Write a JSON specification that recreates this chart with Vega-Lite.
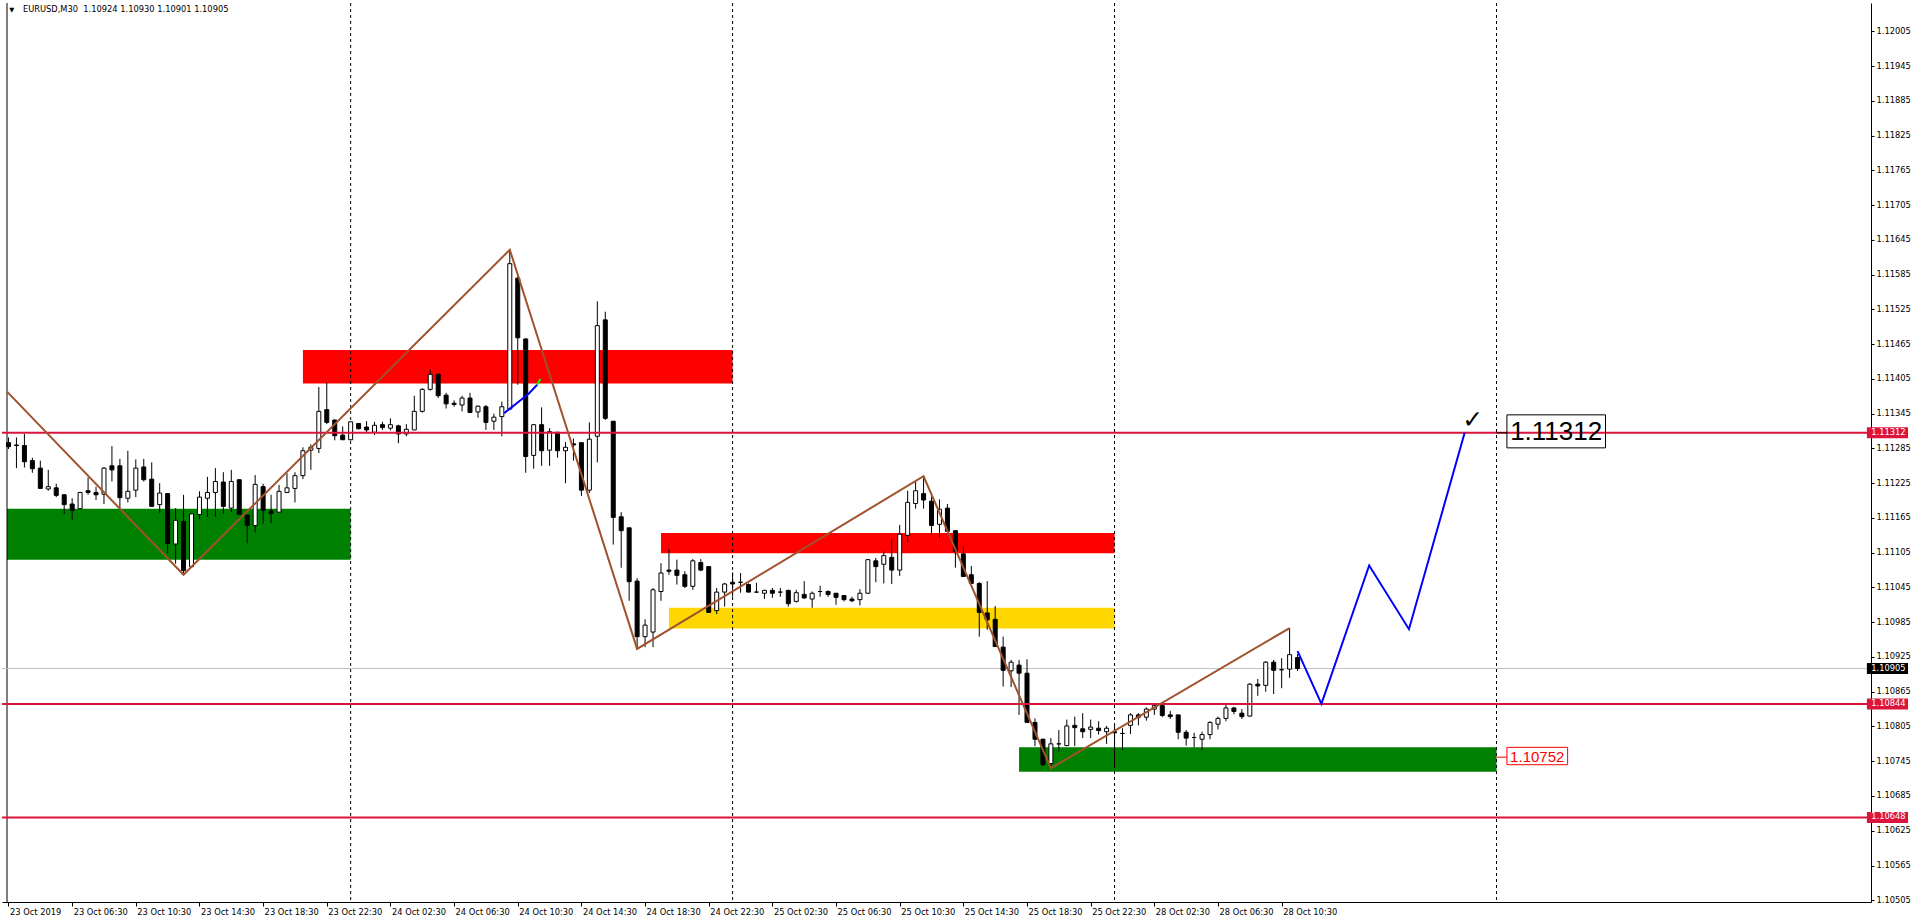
{
"$schema": "https://vega.github.io/schema/vega-lite/v6.json",
"width": 1869, "height": 899,
"autosize": "none",
"padding": {"left": 2, "top": 3, "right": 45, "bottom": 21},
"background": "white",
"config": {"view": {"stroke": null}, "axis": {"grid": false, "labelFont": "DejaVu Sans", "labelFontSize": 8.3, "labelColor": "#000000", "domainColor": "#000000", "tickColor": "#000000", "domainWidth": 1, "tickWidth": 1}},
"resolve": {"axis": {"x": "independent", "y": "independent"}, "scale": {"color": "independent"}},
"data": {"values": [{}]},
"datasets": {
"zones": [
{"a": -0.1875, "b": 43, "lo": 1.11093, "hi": 1.11181, "kind": "demand"},
{"a": 37, "b": 91, "lo": 1.11397, "hi": 1.11455, "kind": "supply"},
{"a": 82, "b": 139, "lo": 1.11104, "hi": 1.11139, "kind": "supply"},
{"a": 83, "b": 139, "lo": 1.10974, "hi": 1.11010, "kind": "mid"},
{"a": 127, "b": 187, "lo": 1.10727, "hi": 1.10769, "kind": "demand"}
],
"days": [{"i": 43}, {"i": 91}, {"i": 139}, {"i": 187}],
"levels": [{"p": 1.11312}, {"p": 1.10844}, {"p": 1.10648}],
"markers": [{"p": 1.11312, "kind": "level"}, {"p": 1.10844, "kind": "level"}, {"p": 1.10648, "kind": "level"}, {"p": 1.10905, "kind": "bid"}],
"zigzag": [{"i": -0.1875, "p": 1.11383}, {"i": 22, "p": 1.11067}, {"i": 63, "p": 1.11628}, {"i": 79, "p": 1.10939}, {"i": 115, "p": 1.11237}, {"i": 131, "p": 1.10733}, {"i": 161, "p": 1.10975}],
"projection": [{"i": 162, "p": 1.10935}, {"i": 165, "p": 1.10844}, {"i": 171, "p": 1.11083}, {"i": 176, "p": 1.10973}, {"i": 183, "p": 1.11312}],
"smallblue": [{"i": 62.3, "p": 1.11346}, {"i": 64.15, "p": 1.11366}, {"i": 65.4, "p": 1.1138}, {"i": 66.44, "p": 1.11395}],
"smallgreen": [{"i": 66.44, "p": 1.11395}, {"i": 66.85, "p": 1.11405}],
"candles": [
{"i":0,"o":1.11295,"h":1.11304,"l":1.11284,"c":1.11288},
{"i":1,"o":1.11290,"h":1.11304,"l":1.11251,"c":1.11291},
{"i":2,"o":1.11290,"h":1.11310,"l":1.11252,"c":1.11262},
{"i":3,"o":1.11264,"h":1.11269,"l":1.11243,"c":1.11250},
{"i":4,"o":1.11251,"h":1.11264,"l":1.11215,"c":1.11216},
{"i":5,"o":1.11215,"h":1.11248,"l":1.11212,"c":1.11219},
{"i":6,"o":1.11217,"h":1.11224,"l":1.11201,"c":1.11204},
{"i":7,"o":1.11205,"h":1.11206,"l":1.11172,"c":1.11188},
{"i":8,"o":1.11189,"h":1.11199,"l":1.11162,"c":1.11178},
{"i":9,"o":1.11181,"h":1.11210,"l":1.11180,"c":1.11209},
{"i":10,"o":1.11212,"h":1.11235,"l":1.11205,"c":1.11209},
{"i":11,"o":1.11209,"h":1.11219,"l":1.11196,"c":1.11205},
{"i":12,"o":1.11206,"h":1.11253,"l":1.11189,"c":1.11251},
{"i":13,"o":1.11255,"h":1.11289,"l":1.11228,"c":1.11248},
{"i":14,"o":1.11255,"h":1.11267,"l":1.11182,"c":1.11200},
{"i":15,"o":1.11199,"h":1.11281,"l":1.11192,"c":1.11211},
{"i":16,"o":1.11213,"h":1.11266,"l":1.11201,"c":1.11251},
{"i":17,"o":1.11253,"h":1.11267,"l":1.11228,"c":1.11231},
{"i":18,"o":1.11232,"h":1.11261,"l":1.11185,"c":1.11185},
{"i":19,"o":1.11188,"h":1.11225,"l":1.11174,"c":1.11208},
{"i":20,"o":1.11207,"h":1.11208,"l":1.11104,"c":1.11121},
{"i":21,"o":1.11120,"h":1.11182,"l":1.11086,"c":1.11161},
{"i":22,"o":1.11159,"h":1.11205,"l":1.11067,"c":1.11074},
{"i":23,"o":1.11081,"h":1.11173,"l":1.11080,"c":1.11172},
{"i":24,"o":1.11171,"h":1.11211,"l":1.11163,"c":1.11201},
{"i":25,"o":1.11199,"h":1.11236,"l":1.11167,"c":1.11209},
{"i":26,"o":1.11209,"h":1.11251,"l":1.11167,"c":1.11228},
{"i":27,"o":1.11227,"h":1.11244,"l":1.11172,"c":1.11185},
{"i":28,"o":1.11182,"h":1.11248,"l":1.11175,"c":1.11228},
{"i":29,"o":1.11231,"h":1.11232,"l":1.11171,"c":1.11171},
{"i":30,"o":1.11170,"h":1.11170,"l":1.11121,"c":1.11152},
{"i":31,"o":1.11152,"h":1.11239,"l":1.11140,"c":1.11223},
{"i":32,"o":1.11219,"h":1.11224,"l":1.11155,"c":1.11178},
{"i":33,"o":1.11177,"h":1.11205,"l":1.11156,"c":1.11173},
{"i":34,"o":1.11175,"h":1.11222,"l":1.11174,"c":1.11211},
{"i":35,"o":1.11209,"h":1.11242,"l":1.11209,"c":1.11217},
{"i":36,"o":1.11216,"h":1.11244,"l":1.11192,"c":1.11238},
{"i":37,"o":1.11238,"h":1.11287,"l":1.11232,"c":1.11281},
{"i":38,"o":1.11282,"h":1.11292,"l":1.11248,"c":1.11287},
{"i":39,"o":1.11285,"h":1.11391,"l":1.11277,"c":1.11349},
{"i":40,"o":1.11352,"h":1.11399,"l":1.11327,"c":1.11330},
{"i":41,"o":1.11334,"h":1.11335,"l":1.11299,"c":1.11307},
{"i":42,"o":1.11308,"h":1.11323,"l":1.11300,"c":1.11300},
{"i":43,"o":1.11300,"h":1.11331,"l":1.11299,"c":1.11331},
{"i":44,"o":1.11328,"h":1.11329,"l":1.11318,"c":1.11319},
{"i":45,"o":1.11322,"h":1.11332,"l":1.11312,"c":1.11317},
{"i":46,"o":1.11313,"h":1.11331,"l":1.11308,"c":1.11325},
{"i":47,"o":1.11326,"h":1.11331,"l":1.11317,"c":1.11321},
{"i":48,"o":1.11320,"h":1.11337,"l":1.11316,"c":1.11326},
{"i":49,"o":1.11324,"h":1.11326,"l":1.11294,"c":1.11310},
{"i":50,"o":1.11310,"h":1.11327,"l":1.11306,"c":1.11318},
{"i":51,"o":1.11317,"h":1.11376,"l":1.11317,"c":1.11349},
{"i":52,"o":1.11349,"h":1.11389,"l":1.11347,"c":1.11387},
{"i":53,"o":1.11387,"h":1.11421,"l":1.11385,"c":1.11413},
{"i":54,"o":1.11413,"h":1.11414,"l":1.11372,"c":1.11376},
{"i":55,"o":1.11377,"h":1.11381,"l":1.11354,"c":1.11362},
{"i":56,"o":1.11363,"h":1.11368,"l":1.11357,"c":1.11361},
{"i":57,"o":1.11360,"h":1.11376,"l":1.11349,"c":1.11372},
{"i":58,"o":1.11372,"h":1.11381,"l":1.11347,"c":1.11347},
{"i":59,"o":1.11348,"h":1.11359,"l":1.11338,"c":1.11358},
{"i":60,"o":1.11357,"h":1.11360,"l":1.11317,"c":1.11330},
{"i":61,"o":1.11332,"h":1.11345,"l":1.11317,"c":1.11339},
{"i":62,"o":1.11340,"h":1.11366,"l":1.11306,"c":1.11357},
{"i":63,"o":1.11353,"h":1.11628,"l":1.11352,"c":1.11604},
{"i":64,"o":1.11579,"h":1.11582,"l":1.11395,"c":1.11476},
{"i":65,"o":1.11474,"h":1.11475,"l":1.11243,"c":1.11271},
{"i":66,"o":1.11273,"h":1.11327,"l":1.11250,"c":1.11326},
{"i":67,"o":1.11326,"h":1.11356,"l":1.11255,"c":1.11281},
{"i":68,"o":1.11282,"h":1.11320,"l":1.11255,"c":1.11314},
{"i":69,"o":1.11313,"h":1.11313,"l":1.11269,"c":1.11281},
{"i":70,"o":1.11281,"h":1.11296,"l":1.11225,"c":1.11287},
{"i":71,"o":1.11293,"h":1.11302,"l":1.11264,"c":1.11291},
{"i":72,"o":1.11295,"h":1.11295,"l":1.11203,"c":1.11213},
{"i":73,"o":1.11213,"h":1.11330,"l":1.11208,"c":1.11301},
{"i":74,"o":1.11306,"h":1.11539,"l":1.11261,"c":1.11497},
{"i":75,"o":1.11507,"h":1.11521,"l":1.11334,"c":1.11337},
{"i":76,"o":1.11332,"h":1.11332,"l":1.11119,"c":1.11166},
{"i":77,"o":1.11167,"h":1.11175,"l":1.11079,"c":1.11143},
{"i":78,"o":1.11148,"h":1.11148,"l":1.11022,"c":1.11055},
{"i":79,"o":1.11056,"h":1.11061,"l":1.10939,"c":1.10960},
{"i":80,"o":1.10960,"h":1.10990,"l":1.10942,"c":1.10980},
{"i":81,"o":1.10968,"h":1.11044,"l":1.10942,"c":1.11041},
{"i":82,"o":1.11038,"h":1.11087,"l":1.11022,"c":1.11070},
{"i":83,"o":1.11075,"h":1.11111,"l":1.11067,"c":1.11073},
{"i":84,"o":1.11075,"h":1.11093,"l":1.11050,"c":1.11066},
{"i":85,"o":1.11067,"h":1.11073,"l":1.11044,"c":1.11047},
{"i":86,"o":1.11047,"h":1.11094,"l":1.11041,"c":1.11091},
{"i":87,"o":1.11088,"h":1.11094,"l":1.11073,"c":1.11075},
{"i":88,"o":1.11081,"h":1.11081,"l":1.11001,"c":1.11002},
{"i":89,"o":1.11005,"h":1.11044,"l":1.10999,"c":1.11037},
{"i":90,"o":1.11037,"h":1.11053,"l":1.11012,"c":1.11051},
{"i":91,"o":1.11054,"h":1.11071,"l":1.11029,"c":1.11051},
{"i":92,"o":1.11054,"h":1.11070,"l":1.11036,"c":1.11054},
{"i":93,"o":1.11050,"h":1.11052,"l":1.11037,"c":1.11037},
{"i":94,"o":1.11037,"h":1.11053,"l":1.11036,"c":1.11037},
{"i":95,"o":1.11035,"h":1.11041,"l":1.11025,"c":1.11040},
{"i":96,"o":1.11040,"h":1.11044,"l":1.11027,"c":1.11035},
{"i":97,"o":1.11037,"h":1.11044,"l":1.11029,"c":1.11037},
{"i":98,"o":1.11040,"h":1.11041,"l":1.11012,"c":1.11017},
{"i":99,"o":1.11021,"h":1.11041,"l":1.11019,"c":1.11036},
{"i":100,"o":1.11033,"h":1.11056,"l":1.11025,"c":1.11027},
{"i":101,"o":1.11025,"h":1.11038,"l":1.11010,"c":1.11035},
{"i":102,"o":1.11038,"h":1.11048,"l":1.11029,"c":1.11038},
{"i":103,"o":1.11038,"h":1.11040,"l":1.11029,"c":1.11033},
{"i":104,"o":1.11035,"h":1.11035,"l":1.11015,"c":1.11028},
{"i":105,"o":1.11031,"h":1.11032,"l":1.11021,"c":1.11024},
{"i":106,"o":1.11025,"h":1.11029,"l":1.11020,"c":1.11022},
{"i":107,"o":1.11024,"h":1.11042,"l":1.11014,"c":1.11035},
{"i":108,"o":1.11035,"h":1.11094,"l":1.11034,"c":1.11093},
{"i":109,"o":1.11091,"h":1.11096,"l":1.11054,"c":1.11081},
{"i":110,"o":1.11085,"h":1.11107,"l":1.11052,"c":1.11100},
{"i":111,"o":1.11097,"h":1.11129,"l":1.11051,"c":1.11075},
{"i":112,"o":1.11075,"h":1.11153,"l":1.11065,"c":1.11137},
{"i":113,"o":1.11135,"h":1.11212,"l":1.11123,"c":1.11192},
{"i":114,"o":1.11190,"h":1.11228,"l":1.11181,"c":1.11212},
{"i":115,"o":1.11207,"h":1.11237,"l":1.11181,"c":1.11196},
{"i":116,"o":1.11194,"h":1.11202,"l":1.11136,"c":1.11152},
{"i":117,"o":1.11154,"h":1.11197,"l":1.11131,"c":1.11180},
{"i":118,"o":1.11182,"h":1.11189,"l":1.11142,"c":1.11142},
{"i":119,"o":1.11143,"h":1.11143,"l":1.11079,"c":1.11107},
{"i":120,"o":1.11103,"h":1.11116,"l":1.11064,"c":1.11064},
{"i":121,"o":1.11067,"h":1.11082,"l":1.11052,"c":1.11052},
{"i":122,"o":1.11052,"h":1.11054,"l":1.10960,"c":1.11002},
{"i":123,"o":1.11001,"h":1.11056,"l":1.10972,"c":1.10989},
{"i":124,"o":1.10990,"h":1.11013,"l":1.10943,"c":1.10943},
{"i":125,"o":1.10942,"h":1.10960,"l":1.10874,"c":1.10902},
{"i":126,"o":1.10901,"h":1.10920,"l":1.10873,"c":1.10916},
{"i":127,"o":1.10911,"h":1.10920,"l":1.10825,"c":1.10897},
{"i":128,"o":1.10897,"h":1.10921,"l":1.10811,"c":1.10812},
{"i":129,"o":1.10812,"h":1.10819,"l":1.10771,"c":1.10783},
{"i":130,"o":1.10783,"h":1.10784,"l":1.10737,"c":1.10739},
{"i":131,"o":1.10741,"h":1.10785,"l":1.10733,"c":1.10775},
{"i":132,"o":1.10775,"h":1.10799,"l":1.10762,"c":1.10775},
{"i":133,"o":1.10772,"h":1.10817,"l":1.10771,"c":1.10806},
{"i":134,"o":1.10807,"h":1.10822,"l":1.10771,"c":1.10803},
{"i":135,"o":1.10801,"h":1.10828,"l":1.10785,"c":1.10796},
{"i":136,"o":1.10800,"h":1.10817,"l":1.10785,"c":1.10804},
{"i":137,"o":1.10802,"h":1.10814,"l":1.10791,"c":1.10798},
{"i":138,"o":1.10796,"h":1.10806,"l":1.10775,"c":1.10802},
{"i":139,"o":1.10796,"h":1.10808,"l":1.10736,"c":1.10794},
{"i":140,"o":1.10793,"h":1.10802,"l":1.10764,"c":1.10793},
{"i":141,"o":1.10807,"h":1.10828,"l":1.10792,"c":1.10825},
{"i":142,"o":1.10825,"h":1.10828,"l":1.10807,"c":1.10821},
{"i":143,"o":1.10821,"h":1.10838,"l":1.10815,"c":1.10835},
{"i":144,"o":1.10835,"h":1.10842,"l":1.10825,"c":1.10841},
{"i":145,"o":1.10841,"h":1.10842,"l":1.10821,"c":1.10824},
{"i":146,"o":1.10825,"h":1.10832,"l":1.10818,"c":1.10822},
{"i":147,"o":1.10825,"h":1.10825,"l":1.10783,"c":1.10795},
{"i":148,"o":1.10795,"h":1.10799,"l":1.10772,"c":1.10785},
{"i":149,"o":1.10786,"h":1.10794,"l":1.10769,"c":1.10786},
{"i":150,"o":1.10783,"h":1.10796,"l":1.10764,"c":1.10791},
{"i":151,"o":1.10791,"h":1.10814,"l":1.10783,"c":1.10812},
{"i":152,"o":1.10809,"h":1.10822,"l":1.10800,"c":1.10819},
{"i":153,"o":1.10819,"h":1.10842,"l":1.10814,"c":1.10837},
{"i":154,"o":1.10837,"h":1.10839,"l":1.10826,"c":1.10831},
{"i":155,"o":1.10828,"h":1.10835,"l":1.10818,"c":1.10822},
{"i":156,"o":1.10823,"h":1.10880,"l":1.10822,"c":1.10878},
{"i":157,"o":1.10878,"h":1.10887,"l":1.10858,"c":1.10875},
{"i":158,"o":1.10876,"h":1.10918,"l":1.10865,"c":1.10916},
{"i":159,"o":1.10916,"h":1.10920,"l":1.10861,"c":1.10902},
{"i":160,"o":1.10903,"h":1.10923,"l":1.10871,"c":1.10903},
{"i":161,"o":1.10904,"h":1.10975,"l":1.10889,"c":1.10929},
{"i":162,"o":1.10924,"h":1.10930,"l":1.10901,"c":1.10905}
]
},
"layer": [
{"data": {"name": "zones"}, "mark": {"type": "rect"},
 "encoding": {
  "x": {"field": "a", "type": "quantitative", "scale": {"domain": [-0.1875, 233.4375], "nice": false, "zero": false},
   "axis": {"title": null, "orient": "bottom", "values": [0,8,16,24,32,40,48,56,64,72,80,88,96,104,112,120,128,136,144,152,160],
    "labelExpr": "['23 Oct 2019','23 Oct 06:30','23 Oct 10:30','23 Oct 14:30','23 Oct 18:30','23 Oct 22:30','24 Oct 02:30','24 Oct 06:30','24 Oct 10:30','24 Oct 14:30','24 Oct 18:30','24 Oct 22:30','25 Oct 02:30','25 Oct 06:30','25 Oct 10:30','25 Oct 14:30','25 Oct 18:30','25 Oct 22:30','28 Oct 02:30','28 Oct 06:30','28 Oct 10:30'][round(datum.value/8)]",
    "tickSize": 4, "labelAlign": "left", "labelBaseline": "top", "labelPadding": 1, "labelOffset": 1, "labelOverlap": false, "labelFlush": false, "grid": false}},
  "x2": {"field": "b"},
  "y": {"field": "lo", "type": "quantitative", "scale": {"domain": [1.10502, 1.12054], "nice": false, "zero": false},
   "axis": {"title": null, "orient": "right", "values": [1.10505,1.10565,1.10625,1.10685,1.10745,1.10805,1.10865,1.10925,1.10985,1.11045,1.11105,1.11165,1.11225,1.11285,1.11345,1.11405,1.11465,1.11525,1.11585,1.11645,1.11705,1.11765,1.11825,1.11885,1.11945,1.12005],
    "format": ".5f", "tickSize": 3, "labelPadding": 2, "labelOverlap": false, "labelFlush": false, "labelBaseline": "middle", "labelAlign": "left", "grid": false}},
  "y2": {"field": "hi"},
  "color": {"field": "kind", "type": "nominal", "scale": {"domain": ["demand", "supply", "mid"], "range": ["#008000", "#FF0000", "#FFD700"]}, "legend": null}
 }},
{"data": {"name": "days"}, "mark": {"type": "rule", "color": "#000000", "strokeWidth": 1, "strokeDash": [3, 3]},
 "encoding": {"x": {"field": "i", "type": "quantitative", "scale": {"domain": [-0.1875, 233.4375], "nice": false, "zero": false}, "axis": null}}},
{"mark": {"type": "rule", "color": "#000000", "strokeWidth": 1},
 "encoding": {"x": {"datum": -0.1875, "type": "quantitative", "scale": {"domain": [-0.1875, 233.4375], "nice": false, "zero": false}, "axis": null}}},
{"mark": {"type": "rule", "color": "#C0C0C0", "strokeWidth": 1},
 "encoding": {"y": {"datum": 1.10905, "type": "quantitative", "scale": {"domain": [1.10502, 1.12054], "nice": false, "zero": false}, "axis": null}}},
{"data": {"name": "candles"}, "mark": {"type": "rule", "color": "#000000", "strokeWidth": 1},
 "encoding": {
  "x": {"field": "i", "type": "quantitative", "scale": {"domain": [-0.1875, 233.4375], "nice": false, "zero": false}, "axis": null},
  "y": {"field": "l", "type": "quantitative", "scale": {"domain": [1.10502, 1.12054], "nice": false, "zero": false}, "axis": null},
  "y2": {"field": "h"}}},
{"data": {"name": "candles"}, "mark": {"type": "bar", "orient": "vertical", "width": 4, "stroke": "#000000", "strokeWidth": 1},
 "encoding": {
  "x": {"field": "i", "type": "quantitative", "scale": {"domain": [-0.1875, 233.4375], "nice": false, "zero": false}, "axis": null},
  "y": {"field": "o", "type": "quantitative", "scale": {"domain": [1.10502, 1.12054], "nice": false, "zero": false}, "axis": null},
  "y2": {"field": "c"},
  "fill": {"condition": {"test": "datum.c >= datum.o", "value": "#FFFFFF"}, "value": "#000000"}}},
{"data": {"name": "levels"}, "mark": {"type": "rule", "color": "#DC143C", "strokeWidth": 2},
 "encoding": {"y": {"field": "p", "type": "quantitative", "scale": {"domain": [1.10502, 1.12054], "nice": false, "zero": false}, "axis": null}}},
{"data": {"name": "zigzag"}, "mark": {"type": "line", "color": "#A0522D", "strokeWidth": 2},
 "encoding": {
  "x": {"field": "i", "type": "quantitative", "scale": {"domain": [-0.1875, 233.4375], "nice": false, "zero": false}, "axis": null},
  "y": {"field": "p", "type": "quantitative", "scale": {"domain": [1.10502, 1.12054], "nice": false, "zero": false}, "axis": null}}},
{"data": {"name": "projection"}, "mark": {"type": "line", "color": "#0000FF", "strokeWidth": 2},
 "encoding": {
  "x": {"field": "i", "type": "quantitative", "scale": {"domain": [-0.1875, 233.4375], "nice": false, "zero": false}, "axis": null},
  "y": {"field": "p", "type": "quantitative", "scale": {"domain": [1.10502, 1.12054], "nice": false, "zero": false}, "axis": null}}},
{"data": {"name": "smallblue"}, "mark": {"type": "line", "color": "#0000FF", "strokeWidth": 2},
 "encoding": {
  "x": {"field": "i", "type": "quantitative", "scale": {"domain": [-0.1875, 233.4375], "nice": false, "zero": false}, "axis": null},
  "y": {"field": "p", "type": "quantitative", "scale": {"domain": [1.10502, 1.12054], "nice": false, "zero": false}, "axis": null}}},
{"data": {"name": "smallgreen"}, "mark": {"type": "line", "color": "#00FF00", "strokeWidth": 2},
 "encoding": {
  "x": {"field": "i", "type": "quantitative", "scale": {"domain": [-0.1875, 233.4375], "nice": false, "zero": false}, "axis": null},
  "y": {"field": "p", "type": "quantitative", "scale": {"domain": [1.10502, 1.12054], "nice": false, "zero": false}, "axis": null}}},
{"mark": {"type": "rule", "color": "#000000", "strokeWidth": 1},
 "encoding": {
  "x": {"datum": 187, "type": "quantitative", "scale": {"domain": [-0.1875, 233.4375], "nice": false, "zero": false}, "axis": null},
  "x2": {"datum": 188.31},
  "y": {"datum": 1.11312, "type": "quantitative", "scale": {"domain": [1.10502, 1.12054], "nice": false, "zero": false}, "axis": null}}},
{"mark": {"type": "rect", "fill": null, "stroke": "#000000", "strokeWidth": 1},
 "encoding": {
  "x": {"datum": 188.31, "type": "quantitative", "scale": {"domain": [-0.1875, 233.4375], "nice": false, "zero": false}, "axis": null},
  "x2": {"datum": 200.7},
  "y": {"datum": 1.11343, "type": "quantitative", "scale": {"domain": [1.10502, 1.12054], "nice": false, "zero": false}, "axis": null},
  "y2": {"datum": 1.11286}}},
{"mark": {"type": "text", "font": "Liberation Sans", "fontSize": 26, "color": "#000000", "align": "center", "baseline": "middle"},
 "encoding": {
  "x": {"datum": 194.5, "type": "quantitative", "scale": {"domain": [-0.1875, 233.4375], "nice": false, "zero": false}, "axis": null},
  "y": {"datum": 1.11314, "type": "quantitative", "scale": {"domain": [1.10502, 1.12054], "nice": false, "zero": false}, "axis": null},
  "text": {"value": "1.11312"}}},
{"mark": {"type": "rule", "color": "#FF0000", "strokeWidth": 1},
 "encoding": {
  "x": {"datum": 187, "type": "quantitative", "scale": {"domain": [-0.1875, 233.4375], "nice": false, "zero": false}, "axis": null},
  "x2": {"datum": 188.31},
  "y": {"datum": 1.10752, "type": "quantitative", "scale": {"domain": [1.10502, 1.12054], "nice": false, "zero": false}, "axis": null}}},
{"mark": {"type": "rect", "fill": null, "stroke": "#FF0000", "strokeWidth": 1},
 "encoding": {
  "x": {"datum": 188.31, "type": "quantitative", "scale": {"domain": [-0.1875, 233.4375], "nice": false, "zero": false}, "axis": null},
  "x2": {"datum": 195.94},
  "y": {"datum": 1.10769, "type": "quantitative", "scale": {"domain": [1.10502, 1.12054], "nice": false, "zero": false}, "axis": null},
  "y2": {"datum": 1.10739}}},
{"mark": {"type": "text", "font": "Liberation Sans", "fontSize": 15, "color": "#FF0000", "align": "center", "baseline": "middle"},
 "encoding": {
  "x": {"datum": 192.12, "type": "quantitative", "scale": {"domain": [-0.1875, 233.4375], "nice": false, "zero": false}, "axis": null},
  "y": {"datum": 1.10753, "type": "quantitative", "scale": {"domain": [1.10502, 1.12054], "nice": false, "zero": false}, "axis": null},
  "text": {"value": "1.10752"}}},
{"mark": {"type": "text", "font": "DejaVu Sans", "fontSize": 25, "color": "#000000", "align": "center", "baseline": "middle"},
 "encoding": {
  "x": {"datum": 184, "type": "quantitative", "scale": {"domain": [-0.1875, 233.4375], "nice": false, "zero": false}, "axis": null},
  "y": {"datum": 1.11334, "type": "quantitative", "scale": {"domain": [1.10502, 1.12054], "nice": false, "zero": false}, "axis": null},
  "text": {"value": "✓"}}},
{"mark": {"type": "text", "font": "DejaVu Sans", "fontSize": 6.5, "color": "#000000", "align": "center", "baseline": "middle"},
 "encoding": {
  "x": {"datum": 0.4, "type": "quantitative", "scale": {"domain": [-0.1875, 233.4375], "nice": false, "zero": false}, "axis": null},
  "y": {"datum": 1.12042, "type": "quantitative", "scale": {"domain": [1.10502, 1.12054], "nice": false, "zero": false}, "axis": null},
  "text": {"value": "▼"}}},
{"mark": {"type": "text", "font": "DejaVu Sans", "fontSize": 8.3, "color": "#000000", "align": "left", "baseline": "middle"},
 "encoding": {
  "x": {"datum": 1.81, "type": "quantitative", "scale": {"domain": [-0.1875, 233.4375], "nice": false, "zero": false}, "axis": null},
  "y": {"datum": 1.12042, "type": "quantitative", "scale": {"domain": [1.10502, 1.12054], "nice": false, "zero": false}, "axis": null},
  "text": {"value": "EURUSD,M30\u00a0\u00a01.10924 1.10930 1.10901 1.10905"}}},
{"data": {"name": "markers"}, "mark": {"type": "rule", "strokeWidth": 11},
 "encoding": {
  "x": {"datum": 233.55, "type": "quantitative", "scale": {"domain": [-0.1875, 233.4375], "nice": false, "zero": false}, "axis": null},
  "x2": {"datum": 238.72},
  "y": {"field": "p", "type": "quantitative", "scale": {"domain": [1.10502, 1.12054], "nice": false, "zero": false}, "axis": null},
  "color": {"condition": {"test": "datum.kind == 'bid'", "value": "#000000"}, "value": "#DC143C"}}},
{"data": {"name": "markers"}, "mark": {"type": "text", "font": "DejaVu Sans", "fontSize": 8.3, "color": "#FFFFFF", "align": "left", "baseline": "middle"},
 "encoding": {
  "x": {"datum": 234.1, "type": "quantitative", "scale": {"domain": [-0.1875, 233.4375], "nice": false, "zero": false}, "axis": null},
  "y": {"field": "p", "type": "quantitative", "scale": {"domain": [1.10502, 1.12054], "nice": false, "zero": false}, "axis": null},
  "text": {"field": "p", "type": "quantitative", "format": ".5f"}}}
]
}
